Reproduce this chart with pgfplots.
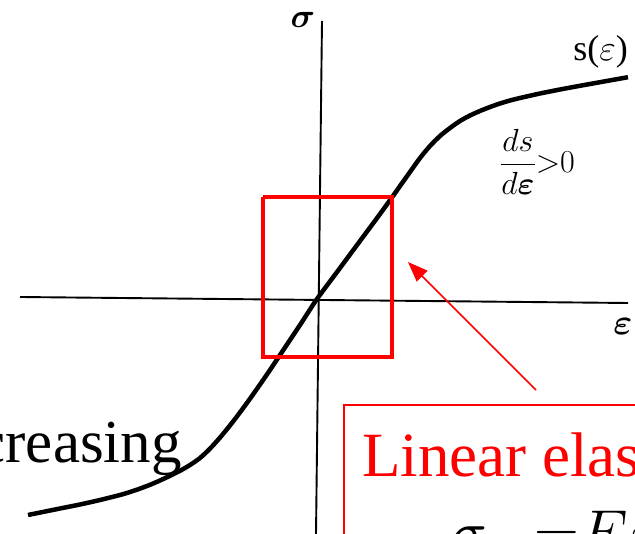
\RequirePackage{fix-cm}
\documentclass[border=0pt]{standalone}
\usepackage{amsmath}
\usepackage{fontspec}
\setmainfont{Liberation Serif}
\usepackage{pgfplots}
\pgfplotsset{compat=1.18}
\usetikzlibrary{arrows.meta}
\begin{document}
\begin{tikzpicture}
\begin{axis}[
  scale only axis, width=635pt, height=534pt,
  xmin=0, xmax=635, ymin=0, ymax=534, y dir=reverse,
  axis lines=none, clip=true,
]
% coordinate axes
\addplot[black, line width=1.9pt] coordinates {(20,297) (628,303)};
\addplot[black, line width=1.9pt] coordinates {(322,21) (316,534)};
% s(eps) curve
\addplot[black, line width=4.5pt, smooth] coordinates {
(28,515) (60,508.5) (80,504.5) (100,500) (120,495) (130,492) (140,488.6)
(150,484.8) (160,480.5) (170,475.8) (180,470.8) (190,465) (200,458)
(210,448.6) (220,437.6) (230,425.4) (240,412.4) (250,398.7) (260,384.5)
(270,370) (280,355) (300,325) (317,299) (340,268) (360,241) (380,214)
(393,196) (400,186) (410,172) (420,158) (430,146) (440,136) (450,128)
(460,121) (470,115.5) (480,111) (490,107) (500,103.5) (510,100.5)
(520,98) (540,93.5) (560,89.5) (580,85.8) (600,82.2) (628,77.2)};
% red square around linear region
\addplot[red, line width=3.3pt] coordinates {(263,197) (392,197) (392,357) (263,357) (263,197)};
% red text box
\addplot[red, line width=1.8pt] coordinates {(344,620) (344,405) (700,405)};
% arrow
\addplot[red, line width=1.5pt, -{Triangle[length=20pt,width=15pt]}] coordinates {(536,390) (408,262)};
\coordinate (pSig) at (axis cs:303,20);
\coordinate (pEps) at (axis cs:623,327);
\coordinate (pS) at (axis cs:628,52);
\coordinate (pFr) at (axis cs:500,162);
\coordinate (pCr) at (axis cs:182,463);
\coordinate (pLin) at (axis cs:362,477);
\coordinate (pEq) at (axis cs:450,554);
\end{axis}
\begin{scope}
\clip (current axis.south west) rectangle (current axis.north east);
\path (pSig) node[inner sep=0pt, font=\fontsize{34}{34}\selectfont] {$\boldsymbol{\sigma}$};
\path (pEps) node[inner sep=0pt, font=\fontsize{36}{36}\selectfont] {$\boldsymbol{\varepsilon}$};
\path (pS) node[inner sep=0pt, anchor=east, font=\fontsize{36}{36}\selectfont] {s($\varepsilon$)};
\path (pFr) node[inner sep=0pt, anchor=west, font=\fontsize{32}{32}\selectfont] {$\displaystyle\frac{ds}{d\boldsymbol{\varepsilon}}{>}0$};
\path (pCr) node[inner sep=0pt, anchor=base east, font=\fontsize{61}{61}\selectfont] {creasing};
\path (pLin) node[inner sep=0pt, anchor=base west, text=red, font=\fontsize{63}{63}\selectfont] {Linear elastic};
\path (pEq) node[inner sep=0pt, anchor=base west, font=\fontsize{62}{62}\selectfont] {$\sigma\hspace{48pt}{=}\hspace{0pt}E\varepsilon$};
\end{scope}
\pgfresetboundingbox
\useasboundingbox (current axis.south west) rectangle (current axis.north east);
\end{tikzpicture}
\end{document}
